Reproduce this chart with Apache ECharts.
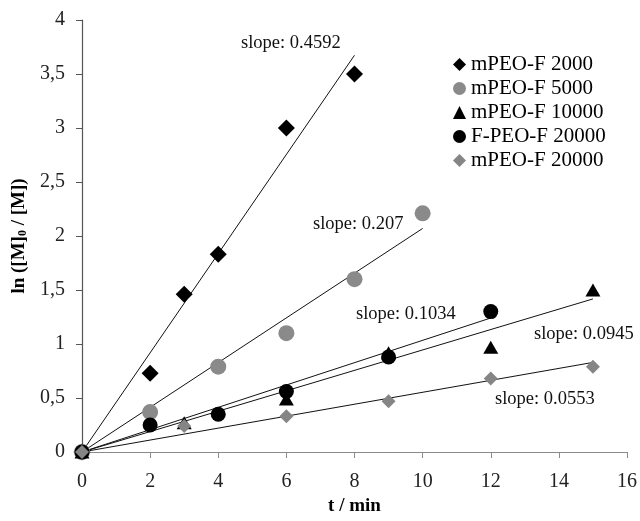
<!DOCTYPE html>
<html>
<head>
<meta charset="utf-8">
<script src="https://cdn.jsdelivr.net/npm/echarts@6/dist/echarts.min.js"></script>
<style>
  html, body { margin: 0; padding: 0; background: #fff; }
  #chart { width: 640px; height: 521px; }
</style>
</head>
<body>
<div id="chart"></div>
<script>
// Reaction time (min) for each sample
const tA = [0, 2, 3, 4, 6, 8];
const tB = [0, 2, 4, 6, 8, 10];
const tC = [0, 3, 6, 9, 12, 15];
const tD = [0, 2, 4, 6, 9, 12];
const tE = [0, 3, 6, 9, 12, 15];

// ln([M]0/[M]) measurements
const mpeo2000 = [0, 0.73, 1.46, 1.83, 3.0, 3.5];
const mpeo5000 = [0, 0.37, 0.79, 1.10, 1.60, 2.21];
const mpeo10000 = [0, 0.27, 0.49, 0.92, 0.97, 1.50];
const fpeof20000 = [0, 0.25, 0.35, 0.56, 0.88, 1.30];
const mpeo20000 = [0, 0.24, 0.33, 0.47, 0.68, 0.79];

const seriesNames = ['mPEO-F 2000', 'mPEO-F 5000', 'mPEO-F 10000', 'F-PEO-F 20000', 'mPEO-F 20000'];

// Linear fits through the origin: slope and last fitted time
const slopes = [0.4592, 0.207, 0.0945, 0.1034, 0.0553];
const fitEnds = [8, 10, 15, 12, 15];

const xTicks = [0, 2, 4, 6, 8, 10, 12, 14, 16];
const yTicks = [0, 0.5, 1, 1.5, 2, 2.5, 3, 3.5, 4];

const times = [tA, tB, tC, tD, tE];
const values = [mpeo2000, mpeo5000, mpeo10000, fpeof20000, mpeo20000];

const FONT = '"Liberation Serif", "Times New Roman", serif';
const styles = [
  { symbol: 'diamond', size: [17, 17], color: '#000' },
  { symbol: 'circle', size: 16, color: '#8a8a8a' },
  { symbol: 'triangle', size: [15, 13], color: '#000' },
  { symbol: 'circle', size: 15, color: '#000' },
  { symbol: 'diamond', size: [14, 14], color: '#858585' }
];

const series = [];
slopes.forEach((k, i) => {
  series.push({
    type: 'line',
    name: 'fit' + i,
    data: [[0, 0], [fitEnds[i], k * fitEnds[i]]],
    symbol: 'none',
    silent: true,
    lineStyle: { color: '#111', width: 1 },
    z: 2
  });
});
values.forEach((vals, i) => {
  series.push({
    type: 'scatter',
    name: seriesNames[i],
    data: vals.map((v, j) => [times[i][j], v]),
    symbol: styles[i].symbol,
    symbolSize: styles[i].size,
    itemStyle: { color: styles[i].color, opacity: 1 },
    z: 3 + i
  });
});

const slopeLabels = [
  { text: 'slope: 0.4592', x: 241, y: 44 },
  { text: 'slope: 0.207', x: 313, y: 225 },
  { text: 'slope: 0.1034', x: 356, y: 315 },
  { text: 'slope: 0.0945', x: 534, y: 335 },
  { text: 'slope: 0.0553', x: 495, y: 400 }
];

const chart = echarts.init(document.getElementById('chart'));
chart.setOption({
  animation: false,
  backgroundColor: '#fff',
  grid: { left: 82, right: 12, top: 20, bottom: 69 },
  legend: {
    data: seriesNames.map((n, i) => ({ name: n, icon: styles[i].symbol })),
    orient: 'vertical',
    left: 448,
    top: 49,
    itemWidth: 13,
    itemHeight: 13,
    itemGap: 3,
    textStyle: { fontFamily: FONT, fontSize: 21, color: '#000' }
  },
  xAxis: {
    type: 'value',
    min: 0, max: 16, interval: 2,
    name: 't / min',
    nameLocation: 'middle',
    nameGap: 36,
    nameTextStyle: { fontFamily: FONT, fontSize: 19, fontWeight: 'bold', color: '#000' },
    axisLine: { lineStyle: { color: '#8a8a8a', width: 1.2 } },
    axisTick: { show: true, length: 6, lineStyle: { color: '#8a8a8a' } },
    axisLabel: {
      fontFamily: FONT, fontSize: 20, color: '#222', margin: 20,
      formatter: v => xTicks.includes(v) ? String(v) : ''
    },
    splitLine: { show: false }
  },
  yAxis: {
    type: 'value',
    min: 0, max: 4, interval: 0.5,
    name: '{b|ln ([M]}{s|0}{b| / [M])}',
    nameLocation: 'middle',
    nameGap: 48,
    nameRotate: 90,
    nameTextStyle: {
      fontFamily: FONT, fontSize: 19, fontWeight: 'bold', color: '#000',
      rich: {
        b: { fontFamily: FONT, fontSize: 19, fontWeight: 'bold', color: '#000' },
        s: { fontFamily: FONT, fontSize: 12, fontWeight: 'bold', color: '#000', padding: [8, 0, 0, 0] }
      }
    },
    axisLine: { show: true, lineStyle: { color: '#555', width: 1.2 } },
    axisTick: { show: true, length: 6, lineStyle: { color: '#555' } },
    axisLabel: {
      fontFamily: FONT, fontSize: 20, color: '#222', margin: 17,
      formatter: v => yTicks.includes(v) ? String(v).replace('.', ',') : ''
    },
    splitLine: { show: false }
  },
  graphic: slopeLabels.map(l => ({
    type: 'text',
    left: l.x,
    top: l.y - 10,
    style: { text: l.text, font: '18.5px ' + FONT, fill: '#111' },
    z: 10
  })),
  series: series
});
</script>
</body>
</html>
